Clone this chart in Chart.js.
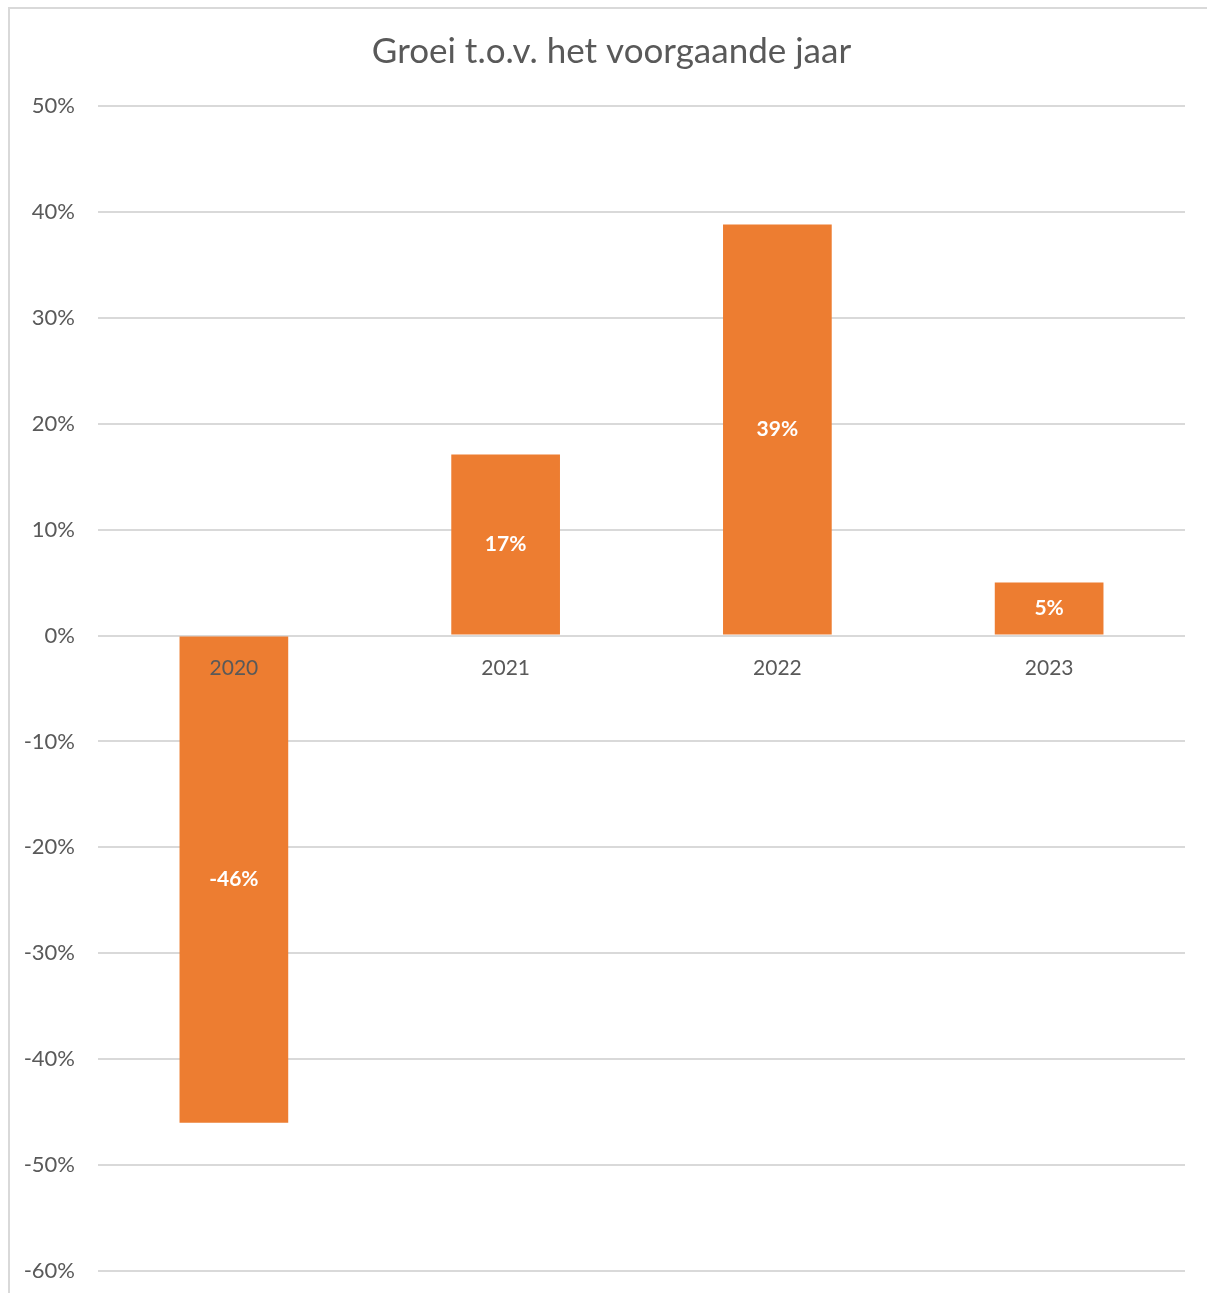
<!DOCTYPE html>
<html>
<head>
<meta charset="utf-8">
<script src="https://cdn.jsdelivr.net/npm/chart.js@4.4.1/dist/chart.umd.min.js"></script>
<style>
  html, body { margin: 0; padding: 0; background: #fff; }
  #wrap { position: relative; width: 1207px; height: 1293px; overflow: hidden; }
  #frame {
    position: absolute; left: 8px; top: 7px; right: -4px; bottom: -4px;
    border: 2px solid #d9d9d9;
  }
  #chart { position: absolute; left: 0; top: 0; }
</style>
</head>
<body>
<div id="wrap">
  <div id="frame"></div>
  <canvas id="chart" width="1207" height="1293"></canvas>
</div>
<script>
// data
const years = ["2020", "2021", "2022", "2023"];
const growth = [-46, 17.1, 38.8, 5];
const growthLabels = ["-46%", "17%", "39%", "5%"];
const yMin = -60;
const yMax = 50;
const chartTitle = "Groei t.o.v. het voorgaande jaar";

const FONT = "Lato, 'Open Sans', sans-serif";
const GREY = "#595959";

// white labels in the middle of each bar
const barLabels = {
  id: "barLabels",
  afterDatasetsDraw(chart) {
    const ctx = chart.ctx;
    const meta = chart.getDatasetMeta(0);
    ctx.save();
    ctx.fillStyle = "#ffffff";
    ctx.font = "bold 21px " + FONT;
    ctx.textAlign = "center";
    ctx.textBaseline = "middle";
    meta.data.forEach((bar, i) => {
      const mid = (bar.y + bar.base) / 2;
      ctx.fillText(growthLabels[i], bar.x, mid);
    });
    ctx.restore();
  },
};

// title centred on the framed area (frame starts a little right of the canvas edge)
const frameTitle = {
  id: "frameTitle",
  afterDraw(chart) {
    const ctx = chart.ctx;
    ctx.save();
    ctx.fillStyle = GREY;
    ctx.font = "35px " + FONT;
    ctx.textAlign = "center";
    ctx.textBaseline = "middle";
    ctx.fillText(chartTitle, (16 + chart.width) / 2, 52);
    ctx.restore();
  },
};

new Chart(document.getElementById("chart"), {
  type: "bar",
  data: {
    labels: years,
    datasets: [
      {
        data: growth,
        backgroundColor: "#ed7d31",
        barPercentage: 0.4,
        categoryPercentage: 1,
      },
    ],
  },
  options: {
    responsive: false,
    animation: false,
    layout: { padding: { left: 0, right: 22, top: 106, bottom: 22 } },
    plugins: {
      legend: { display: false },
      tooltip: { enabled: false },
      title: { display: false },
    },
    scales: {
      x: {
        position: { y: 0 },
        grid: { display: false },
        border: { display: false },
        ticks: {
          z: 1,
          color: GREY,
          font: { family: FONT, size: 21 },
          padding: 12,
        },
      },
      y: {
        min: yMin,
        max: yMax,
        afterFit(scale) { scale.width = 98; },
        // invisible tick marks give the gap between labels and plot
        grid: {
          color: "#d9d9d9",
          lineWidth: 2,
          drawTicks: true,
          tickLength: 23,
          tickColor: "rgba(0,0,0,0)",
        },
        border: { display: false },
        ticks: {
          stepSize: 10,
          color: GREY,
          font: { family: FONT, size: 22 },
          padding: 0,
          callback: (v) => v + "%",
        },
      },
    },
  },
  plugins: [barLabels, frameTitle],
});
</script>
</body>
</html>
